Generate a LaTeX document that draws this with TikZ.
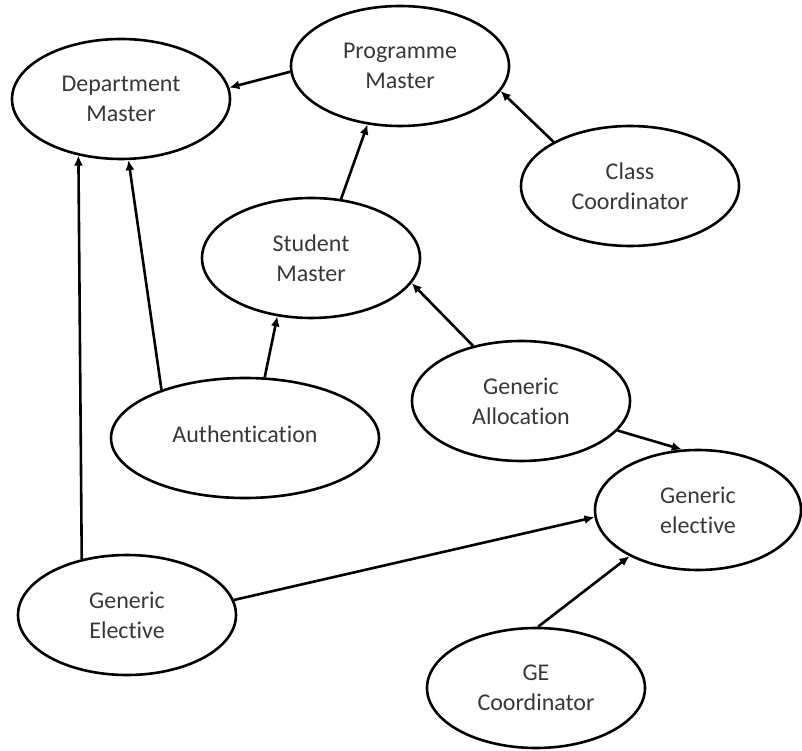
\documentclass[tikz,border=0pt]{standalone}
\usepackage{fontspec}
\setmainfont{Carlito}[Ligatures=NoCommon]
\usetikzlibrary{shapes.geometric,arrows.meta}

\begin{document}
\begin{tikzpicture}[%
        x=1pt, y=1pt,
        font=\fontsize{24}{30}\selectfont,
        entity/.style={draw, ellipse, line width=2.6pt, inner sep=0pt,
                       minimum width=218pt, minimum height=120pt,
                       align=center, text=black!78},
        link/.style={draw, line width=2.6pt},
        >={Latex[length=10pt,width=9pt]} % Voreinstellung fuer Pfeilspitzen
        ]
            \useasboundingbox (0,0) rectangle (802,750);

            % Knoten
            \node [entity] (dept)    at (121,651) {Department\\Master};
            \node [entity] (prog)    at (400,684) {Programme\\Master};
            \node [entity] (class)   at (630,564) {Class\\Coordinator};
            \node [entity] (stud)    at (311,492) {Student\\Master};
            \node [entity, minimum width=268pt] (auth) at (245,312)
                                                {\raisebox{8pt}{Authentication}};
            \node [entity] (alloc)   at (521,349) {Generic\\Allocation};
            \node [entity, minimum width=206pt] (gelec) at (698,240)
                                                {Generic\\elective};
            \node [entity] (gElec)   at (127,135) {Generic\\Elective};
            \node [entity] (gecoord) at (536,62)  {GE\\Coordinator};

            % Pfeile
            \draw [link, ->] (prog.183)    -- (dept.6);
            \draw [link, ->] (stud.63)     -- (prog.241);
            \draw [link, ->] (class.150)   -- (prog.346);
            \draw [link, ->] (alloc.131)   -- (stud.346);
            \draw [link, ->] (auth.150)    -- (dept.277);
            \draw [link, ->] (auth.72)     -- (stud.240);
            \draw [link, ->] (gElec.129)   -- (dept.233);
            \draw [link, ->] (gElec.8)     -- (gelec.184);
            \draw [link, ->] (alloc.343)   -- (gelec.105);
            \draw [link, ->] (gecoord.88)  -- (gelec.214);
        \end{tikzpicture}
\end{document}
